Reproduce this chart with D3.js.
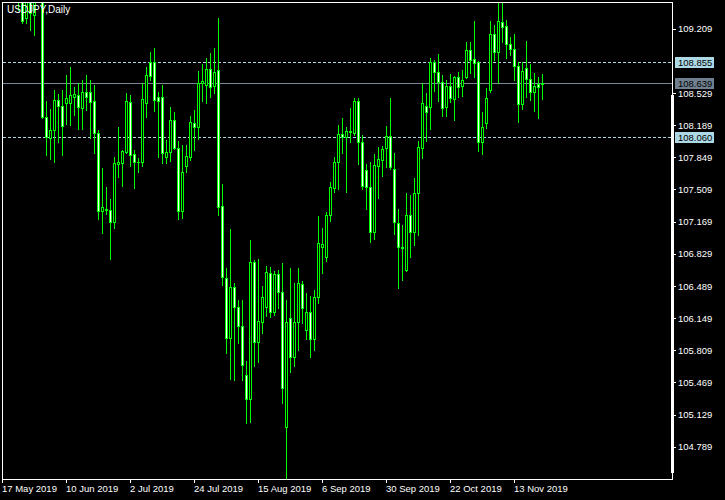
<!DOCTYPE html>
<html><head><meta charset="utf-8">
<script src="https://cdn.jsdelivr.net/npm/d3@7/dist/d3.min.js"></script>
<style>
html,body{margin:0;padding:0;background:#000;}
svg{display:block;}
text{font-family:"Liberation Sans",Arial,sans-serif;}
</style></head>
<body>
<svg id="chart" width="725" height="500"></svg>
<script>
const symbolTitle = "USDJPY,Daily";
const opens = [109.62,110.07,110.05,110.50,110.35,109.60,109.32,109.55,109.35,109.60,
109.62,108.28,108.05,108.14,108.46,108.39,108.42,108.42,108.49,108.51,
108.37,108.54,108.54,108.44,108.11,107.28,107.29,107.29,107.17,107.78,
107.79,107.91,108.43,107.88,107.802,107.80,108.42,108.86,108.86,108.49,
108.49,107.85,107.91,108.24,107.95,107.28,107.76,107.85,108.21,108.17,
108.64,108.61,108.78,108.60,108.77,107.33,106.57,105.94,106.48,106.27,
106.07,105.55,105.29,106.74,105.90,106.11,106.27,106.63,106.21,106.62,
106.43,105.00,106.15,105.74,106.11,106.51,106.02,106.21,105.93,106.37,
106.90,106.80,107.24,107.53,107.80,108.10,108.06,108.13,108.11,108.44,
108.01,107.72,107.54,107.06,107.76,107.82,107.95,108.07,107.73,107.15,
106.901,106.66,107.24,107.06,107.47,107.95,108.39,108.38,108.86,108.75,
108.65,108.38,108.60,108.47,108.70,108.60,108.70,108.98,108.89,108.86,
108.01,108.21,108.56,109.15,108.96,109.28,109.24,109.05,108.99,108.82,
108.41,108.79,108.68,108.54,108.62,108.62];
const highs = [110.10,110.32,110.67,110.60,110.40,109.67,109.70,109.70,109.85,109.93,
109.75,108.44,108.36,108.56,108.52,108.56,108.72,108.80,108.59,108.64,
108.67,108.72,108.67,108.61,108.14,107.74,107.54,107.41,107.85,108.17,
107.93,108.53,108.51,107.93,107.84,108.64,108.80,108.96,109.01,108.54,
108.61,108.03,108.38,108.33,108.02,107.98,107.98,108.29,108.35,108.76,
108.84,108.90,108.95,109.01,109.32,107.57,106.68,107.09,106.52,106.34,
106.34,105.70,106.98,106.76,106.77,106.49,106.70,106.69,106.65,106.66,
106.73,106.34,106.68,106.52,106.68,106.54,106.41,106.38,106.45,107.23,
107.10,107.27,107.59,107.85,108.19,108.27,108.17,108.37,108.48,108.48,
108.09,107.78,107.80,107.88,107.96,107.97,108.18,108.48,107.90,107.30,
107.13,107.47,107.45,107.63,108.02,108.64,108.53,108.90,108.88,108.94,
108.72,108.67,108.73,108.71,108.75,108.77,109.07,109.07,109.29,108.87,
108.33,108.58,109.29,109.25,109.49,109.48,109.30,109.12,109.15,108.86,
108.86,109.08,108.84,108.74,108.70,108.73];
const lows = [109.60,109.95,110.00,110.20,109.41,109.27,109.27,109.20,109.14,109.52,
108.26,107.87,107.83,107.80,108.01,107.87,108.20,108.19,108.30,108.15,
108.15,108.35,108.05,107.90,107.20,107.05,107.25,106.77,107.10,107.64,
107.55,107.90,107.76,107.52,107.69,107.76,108.28,108.67,108.34,107.85,
107.79,107.79,107.81,107.94,107.20,107.21,107.69,107.82,107.93,108.04,
108.44,108.42,108.49,108.53,107.24,106.50,105.78,105.51,105.49,105.89,
105.49,105.04,105.05,105.64,105.69,105.99,106.17,106.16,106.18,106.26,
105.25,104.46,105.58,105.64,105.81,106.10,105.93,105.74,105.81,106.31,
106.63,106.75,107.18,107.48,107.51,107.90,107.48,108.01,108.09,107.78,
107.51,107.30,106.95,106.99,107.42,107.65,107.75,107.73,107.04,106.47,
106.55,106.65,106.80,106.92,107.03,107.84,108.02,108.15,108.55,108.44,
108.29,108.29,108.43,108.24,108.49,108.50,108.69,108.74,108.70,107.92,
107.88,108.16,108.54,108.88,108.63,109.07,108.90,108.93,108.67,108.22,
108.36,108.49,108.46,108.34,108.27,108.47];
const closes = [110.07,110.05,110.50,110.35,109.60,109.29,109.55,109.38,109.60,109.62,
108.28,108.06,108.14,108.46,108.39,108.18,108.48,108.51,108.52,108.38,
108.54,108.49,108.43,108.11,107.28,107.32,107.30,107.17,107.79,107.80,
107.92,108.44,107.87,107.80,107.796,108.47,108.72,108.71,108.46,108.44,
107.90,107.91,108.24,107.95,107.28,107.69,107.86,108.22,108.17,108.64,
108.66,108.78,108.59,108.75,107.32,106.58,105.94,106.48,106.27,106.07,
105.65,105.29,106.74,105.90,106.12,106.37,106.64,106.21,106.62,106.43,
105.41,106.11,105.74,106.11,106.52,106.26,106.21,105.93,106.37,106.94,
106.93,107.24,107.54,107.80,108.10,108.06,108.13,108.12,108.44,108.01,
107.55,107.54,107.06,107.77,107.83,107.94,108.07,107.75,107.17,106.90,
106.895,107.24,107.06,107.47,107.96,108.42,108.33,108.86,108.75,108.65,
108.37,108.60,108.48,108.70,108.59,108.67,108.98,108.88,108.85,108.01,
108.17,108.48,109.15,108.96,109.29,109.23,109.05,108.99,108.82,108.41,
108.76,108.68,108.54,108.60,108.59,108.639];
const priceTicks = [109.209,108.529,108.189,107.849,107.509,107.169,106.829,106.489,106.149,105.809,105.469,105.129,104.789];
const timeTickLabels = ["17 May 2019","10 Jun 2019","2 Jul 2019","24 Jul 2019","15 Aug 2019","6 Sep 2019","30 Sep 2019","22 Oct 2019","13 Nov 2019"];
const dashedLevels = [108.855,108.060];
const currentPrice = 108.639;

// trading days (weekdays) from 17 May 2019 to 22 Nov 2019
const dates = d3.utcDay.range(new Date(Date.UTC(2019,4,17)), new Date(Date.UTC(2019,10,23)))
  .filter(d => d.getUTCDay() !== 0 && d.getUTCDay() !== 6);
const bars = dates.map((d,i)=>({date:d, o:opens[i], h:highs[i], l:lows[i], c:closes[i]}));

const L = 2, R = 672, T = 2, B = 479;
const svg = d3.select("#chart");
svg.append("rect").attr("width",725).attr("height",500).attr("fill","#000");

const x = d3.scaleBand().domain(dates).range([0, 4*dates.length]).padding(0);
const y = d3.scaleLinear().domain([104.448, 109.4914]).range([B, T]);

svg.append("defs").append("clipPath").attr("id","plot")
  .append("rect").attr("x",L+1).attr("y",T+1).attr("width",R-L-1).attr("height",B-T-1);

const plot = svg.append("g").attr("clip-path","url(#plot)").attr("shape-rendering","crispEdges");

// level lines
plot.selectAll("rect.lvl").data(dashedLevels).join("rect").attr("class","lvl")
  .attr("x",L+1).attr("width",R-L-1).attr("y",d=>Math.round(y(d))).attr("height",1)
  .attr("fill","none");
plot.selectAll("line.lvl").data(dashedLevels).join("line").attr("class","lvl")
  .attr("x1",L+1).attr("x2",R).attr("y1",d=>Math.round(y(d))+0.5).attr("y2",d=>Math.round(y(d))+0.5)
  .attr("stroke","#add8e6").attr("stroke-width",1).attr("stroke-dasharray","3,2");
plot.append("rect")
  .attr("x",L+1).attr("width",R-L-1).attr("y",Math.round(y(currentPrice))).attr("height",1)
  .attr("fill","#778899");

const col = d => Math.round(x(d.date) + x.bandwidth()/2);   // pixel column of the wick
const yt = v => Math.round(y(v));
const cg = plot.selectAll("g.c").data(bars).join("g").attr("class","c");
cg.append("rect")
  .attr("x",d=>col(d)).attr("width",1)
  .attr("y",d=>yt(d.h)).attr("height",d=>yt(d.l)-yt(d.h)+1)
  .attr("fill","#00ff00");
cg.append("rect")
  .attr("x",d=>col(d)-1).attr("width",3)
  .attr("y",d=>yt(Math.max(d.o,d.c)))
  .attr("height",d=>yt(Math.min(d.o,d.c))-yt(Math.max(d.o,d.c))+1)
  .attr("fill","#00ff00");
cg.filter(d=>yt(Math.min(d.o,d.c))-yt(Math.max(d.o,d.c))>=2).append("rect")
  .attr("x",d=>col(d)).attr("width",1)
  .attr("y",d=>yt(Math.max(d.o,d.c))+1)
  .attr("height",d=>yt(Math.min(d.o,d.c))-yt(Math.max(d.o,d.c))-1)
  .attr("fill",d=>d.c<d.o?"#ffffff":"#000000");

// frame
const frame = svg.append("g").attr("shape-rendering","crispEdges").attr("fill","#fff");
frame.append("rect").attr("x",L).attr("y",T).attr("width",R-L+1).attr("height",1);
frame.append("rect").attr("x",L).attr("y",T).attr("width",1).attr("height",B-T+1);
frame.append("rect").attr("x",L).attr("y",B).attr("width",R-L+1).attr("height",1);
frame.append("rect").attr("x",R).attr("y",T).attr("width",1).attr("height",B-T+1);
frame.append("rect").attr("x",R-1).attr("y",95).attr("width",3).attr("height",378);

// right price axis
const yAxis = d3.axisRight(y).tickValues(priceTicks).tickSize(4).tickPadding(2).tickFormat(d3.format(".3f"));
const ya = svg.append("g").attr("transform",`translate(${R},0)`).call(yAxis);
ya.select(".domain").remove();
ya.selectAll(".tick line").attr("stroke","#fff").attr("shape-rendering","crispEdges");
ya.selectAll(".tick text").attr("fill","#fff").attr("font-size","9.5px").attr("font-family","Liberation Sans, Arial, sans-serif");

// bottom time axis
const fmt = d3.utcFormat("%-d %b %Y");
const tickDates = dates.filter(d => timeTickLabels.includes(fmt(d)));
const xAxis = d3.axisBottom(x).tickValues(tickDates).tickSize(4).tickPadding(2).tickFormat(fmt);
const xa = svg.append("g").attr("transform",`translate(0,${B})`).call(xAxis);
xa.select(".domain").remove();
xa.selectAll(".tick line").attr("stroke","#fff").attr("shape-rendering","crispEdges");
xa.selectAll(".tick text").attr("fill","#fff").attr("font-size","9.5px").attr("text-anchor","start").attr("x",0)
  .attr("font-family","Liberation Sans, Arial, sans-serif");

// level labels
const labels = [{v:dashedLevels[0],bg:"#add8e6"},{v:currentPrice,bg:"#708090"},{v:dashedLevels[1],bg:"#add8e6"}];
const lg = svg.selectAll("g.lab").data(labels).join("g").attr("class","lab");
lg.append("rect").attr("x",R+3).attr("y",d=>Math.round(y(d.v))-5).attr("width",39).attr("height",11).attr("fill",d=>d.bg);
lg.append("text").attr("x",R+6).attr("y",d=>Math.round(y(d.v))+4).attr("fill","#000")
  .attr("font-size","9.5px").text(d=>d3.format(".3f")(d.v));

// title
svg.append("text").attr("x",7).attr("y",13).attr("fill","#fff").attr("font-size","10px").text(symbolTitle);
</script>
</body></html>
